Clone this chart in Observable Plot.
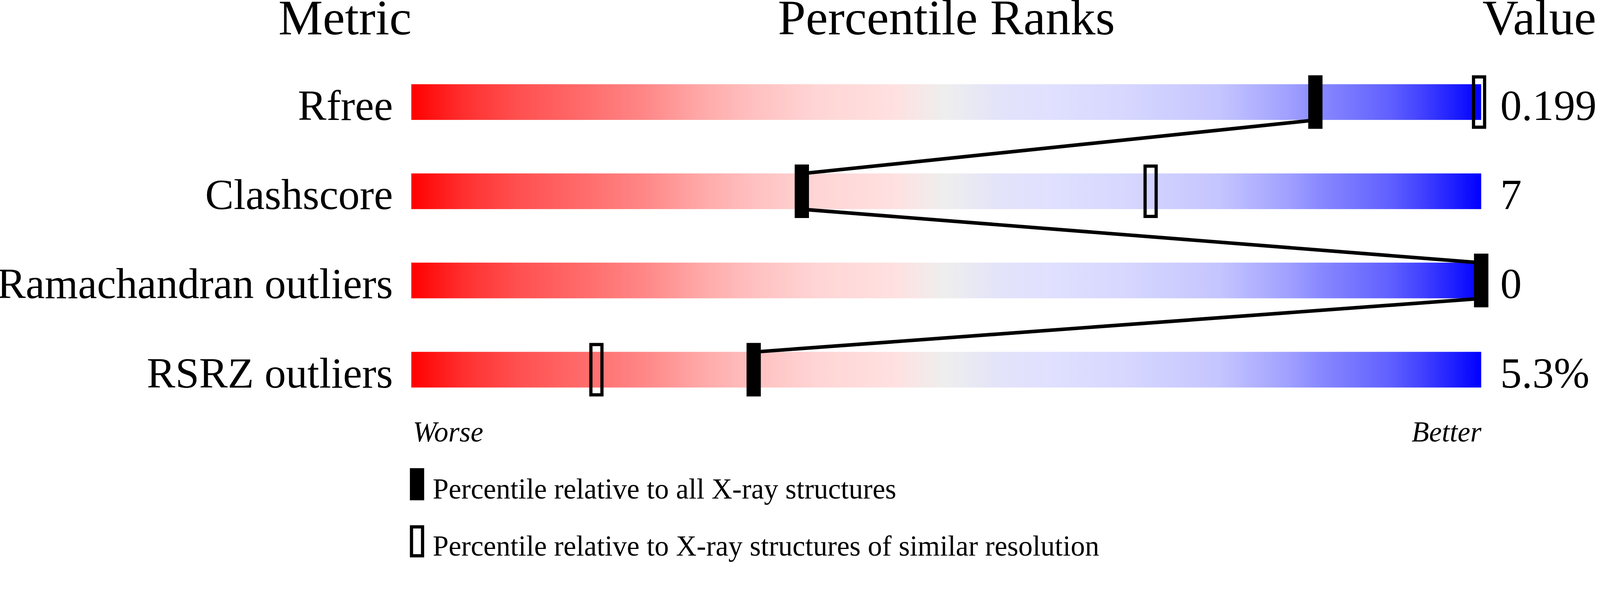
<!DOCTYPE html>
<html>
<head>
<meta charset="utf-8">
<script src="https://cdn.jsdelivr.net/npm/d3@7"></script>
<script src="https://cdn.jsdelivr.net/npm/@observablehq/plot@0.6"></script>
<style>
  html, body { margin: 0; padding: 0; background: #fff; overflow: hidden; }
  #page { position: absolute; left: 0; top: 0; width: 4485px; height: 1574px;
          transform-origin: 0 0; background: #fff;
          font-family: "Liberation Serif", "Times New Roman", serif; }
  #chart svg { display: block; max-width: none !important; }
  .lg-swatch { position: absolute; width: 40px; height: 90px; box-sizing: border-box; }
  .lg-text { position: absolute; font-size: 80px; line-height: 80px; white-space: nowrap; color: #000; }
</style>
</head>
<body>
<div id="page">
  <div id="chart"></div>
  <div id="legend"></div>
</div>
<script>
// ---- data ----
const metrics = ["Rfree", "Clashscore", "Ramachandran outliers", "RSRZ outliers"];
const valueLabels = ["0.199", "7", "0", "5.3%"];
const pctAll = [84.5, 36.5, 100, 32.0];        // percentile relative to all X-ray structures
const pctSimilar = [99.8, 69.1, 100, 17.3];    // percentile relative to similar resolution
const headers = ["Metric", "Percentile Ranks", "Value"];
const ends = ["Worse", "Better"];
const legendLabels = [
  "Percentile relative to all X-ray structures",
  "Percentile relative to X-ray structures of similar resolution"
];
const gradientStops = [
  [0.00, "#ff0000"], [0.05, "#ff3030"], [0.10, "#ff5050"], [0.15, "#ff6666"],
  [0.22, "#ff8888"], [0.27, "#ffa8a8"], [0.32, "#ffc0c0"], [0.38, "#ffd5d5"],
  [0.45, "#ffe0e0"], [0.50, "#eeeeee"], [0.55, "#e3e3fa"], [0.595, "#e0e0ff"],
  [0.66, "#d8d8ff"], [0.755, "#c5c5ff"], [0.82, "#a0a0ff"], [0.85, "#8888ff"],
  [0.915, "#6060ff"], [0.946, "#4040ff"], [1.00, "#0000ff"]
];

const rows = metrics.map((m, i) => ({
  metric: m, row: i, value: valueLabels[i], all: pctAll[i], similar: pctSimilar[i]
}));
const links = rows.slice(0, -1).map((d, i) => ({
  x1: d.all, y1: d.row + 0.2, x2: rows[i + 1].all, y2: rows[i + 1].row - 0.2
}));

const serif = "'Liberation Serif', 'Times New Roman', serif";

const svg = Plot.plot({
  width: 4485,
  height: 1260,
  margin: 0,
  x: {domain: [0, 100], range: [1153, 4152], axis: null},
  y: {domain: [0, 3], range: [286, 1036], axis: null},
  style: {fontFamily: serif, background: "white", color: "black", maxWidth: "none"},
  marks: [
    Plot.rect(rows, {x1: 0, x2: 100, y1: d => d.row - 0.2, y2: d => d.row + 0.2, fill: "url(#pctGrad)"}),
    Plot.link(links, {x1: "x1", y1: "y1", x2: "x2", y2: "y2", stroke: "black", strokeWidth: 10}),
    Plot.rect(rows, {x1: "similar", x2: "similar", y1: d => d.row - 0.3, y2: d => d.row + 0.3,
      insetLeft: -15.5, insetRight: -15.5, insetTop: 4.5, insetBottom: 4.5,
      fill: "none", stroke: "black", strokeWidth: 9}),
    Plot.rect(rows, {x1: "all", x2: "all", y1: d => d.row - 0.3, y2: d => d.row + 0.3,
      insetLeft: -20, insetRight: -20, fill: "black"}),
    Plot.text(rows, {x: 0, y: "row", text: "metric", textAnchor: "end", dx: -52, dy: 11,
      fontSize: 120, fill: "black"}),
    Plot.text(rows, {x: 100, y: "row", text: "value", textAnchor: "start", dx: 53, dy: 11,
      fontSize: 120, fill: "black"}),
    Plot.text([headers[0]], {x: 0, frameAnchor: "top", text: d => d, textAnchor: "end",
      lineAnchor: "top", dy: -3, fontSize: 140, fill: "black"}),
    Plot.text([headers[1]], {x: 50, frameAnchor: "top", text: d => d, textAnchor: "middle",
      lineAnchor: "top", dy: -3, fontSize: 140, fill: "black"}),
    Plot.text([headers[2]], {x: 100, frameAnchor: "top", text: d => d, textAnchor: "start",
      lineAnchor: "top", dx: 3, dy: -3, fontSize: 140, fill: "black"}),
    Plot.text([ends[0]], {x: 0, frameAnchor: "bottom", text: d => d, textAnchor: "start",
      lineAnchor: "bottom", dx: 4, dy: -23, fontSize: 80, fontStyle: "italic", fill: "black"}),
    Plot.text([ends[1]], {x: 100, frameAnchor: "bottom", text: d => d, textAnchor: "end",
      lineAnchor: "bottom", dx: 0, dy: -23, fontSize: 80, fontStyle: "italic", fill: "black"})
  ]
});

// gradient definition
const ns = "http://www.w3.org/2000/svg";
const defs = document.createElementNS(ns, "defs");
const grad = document.createElementNS(ns, "linearGradient");
grad.setAttribute("id", "pctGrad");
grad.setAttribute("x1", "0"); grad.setAttribute("x2", "1");
grad.setAttribute("y1", "0"); grad.setAttribute("y2", "0");
for (const [o, c] of gradientStops) {
  const s = document.createElementNS(ns, "stop");
  s.setAttribute("offset", o);
  s.setAttribute("stop-color", c);
  grad.appendChild(s);
}
defs.appendChild(grad);
svg.insertBefore(defs, svg.firstChild);
svg.style.width = "4485px";
svg.style.height = "1260px";
document.getElementById("chart").appendChild(svg);

// legend (HTML, below the SVG)
const legend = document.getElementById("legend");
const legendStyles = [
  {background: "#000", border: "none"},
  {background: "transparent", border: "9px solid #000"}
];
legendLabels.forEach((label, i) => {
  const top = 1312 + i * 160;
  const sw = document.createElement("div");
  sw.className = "lg-swatch";
  sw.style.left = "1149px";
  sw.style.top = top + "px";
  sw.style.background = legendStyles[i].background;
  sw.style.border = legendStyles[i].border;
  legend.appendChild(sw);
  const tx = document.createElement("div");
  tx.className = "lg-text";
  tx.style.left = "1213px";
  tx.style.top = (top + 18) + "px";
  tx.textContent = label;
  legend.appendChild(tx);
});

// fit the 4485x1574 page into the actual viewport
const page = document.getElementById("page");
function fit() {
  const s = Math.min(window.innerWidth / 4485, window.innerHeight / 1574);
  page.style.transform = s < 0.999 || s > 1.001 ? `scale(${s})` : "none";
}
fit();
window.addEventListener("resize", fit);
</script>
</body>
</html>
